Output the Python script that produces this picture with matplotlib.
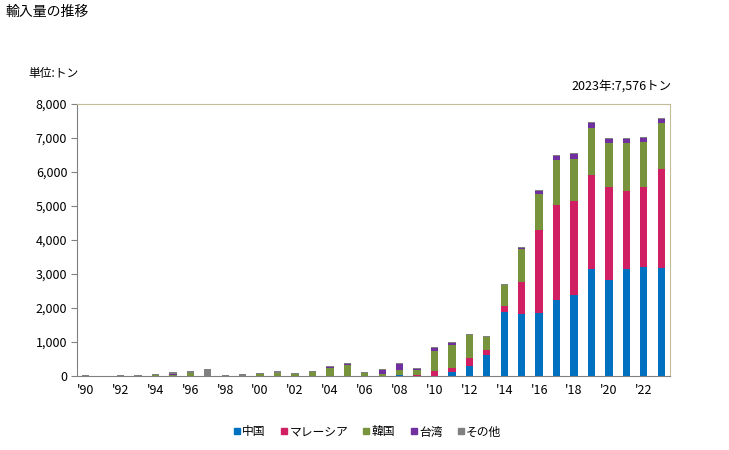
import numpy as np
import matplotlib
matplotlib.use('Agg')
import matplotlib.pyplot as plt
from matplotlib.lines import Line2D

plt.rcParams['font.family'] = ['Noto Sans CJK JP', 'DejaVu Sans']

years = list(range(1990, 2024))
china = [0, 0, 0, 0, 0, 0, 0, 0, 0, 0,
         0, 0, 0, 0, 0, 0, 0, 0, 40, 0,
         0, 118, 294, 608, 1891, 1833, 1852, 2244, 2381, 3146,
         2832, 3146, 3205, 3190]
malaysia = [0, 0, 0, 0, 0, 0, 0, 0, 0, 0,
            10, 0, 0, 0, 0, 0, 0, 0, 0, 40,
            147, 118, 235, 157, 167, 931, 2440, 2783, 2764, 2764,
            2724, 2293, 2352, 2890]
korea = [0, 0, 0, 0, 20, 30, 90, 15, 0, 0,
         40, 80, 50, 130, 230, 320, 93, 69, 137, 147,
         588, 676, 676, 392, 617, 960, 1058, 1323, 1235, 1382,
         1294, 1411, 1323, 1350]
taiwan = [0, 0, 0, 0, 0, 30, 0, 0, 0, 0,
          0, 0, 0, 0, 35, 35, 0, 108, 176, 30,
          88, 60, 0, 0, 0, 40, 88, 118, 147, 147,
          118, 118, 127, 117]
others = [40, 0, 30, 40, 40, 60, 67, 191, 30, 60,
          40, 67, 38, 27, 30, 25, 25, 29, 30, 20,
          30, 40, 30, 20, 29, 30, 39, 29, 29, 29,
          29, 29, 20, 29]

series = [('中国', china, '#0070C0'),
          ('マレーシア', malaysia, '#D01F63'),
          ('韓国', korea, '#77933C'),
          ('台湾', taiwan, '#7030A0'),
          ('その他', others, '#808080')]

fig = plt.figure(figsize=(7.29, 4.5), dpi=100)
ax = fig.add_axes([0.1056, 0.1644, 0.8134, 0.6045])

x = np.arange(len(years))
bottom = np.zeros(len(years))
for name, vals, col in series:
    ax.bar(x, vals, width=0.42, bottom=bottom, color=col, linewidth=0)
    bottom += np.array(vals)

ax.set_xlim(-0.5, len(years) - 0.5)
ax.set_ylim(0, 8000)
ax.set_yticks(range(0, 8001, 1000))
ax.set_yticklabels([f'{v:,}' for v in range(0, 8001, 1000)], fontsize=9)
ax.set_xticks(x[::2])
ax.set_xticklabels([f"'{y % 100:02d}" for y in years[::2]], fontsize=9)
ax.tick_params(axis='x', length=0, pad=6)
ax.tick_params(axis='y', length=4, color='#808080', pad=3)

for s in ['left', 'bottom']:
    ax.spines[s].set_color('#808080')
for s in ['top', 'right']:
    ax.spines[s].set_color('#C4BC96')

fig.text(5 / 729, 1 - 12 / 450, '輸入量の推移', fontsize=10, va='center', ha='left')
fig.text(28 / 729, 1 - 73 / 450, '単位:トン', fontsize=8.5, va='center', ha='left')
fig.text(672 / 729, 1 - 86 / 450, '2023年:7,576トン', fontsize=9, va='center', ha='right')

handles = [Line2D([], [], marker='s', linestyle='', color=c, markersize=5) for _, _, c in series]
fig.legend(handles, [n for n, _, _ in series], loc='center', bbox_to_anchor=(367 / 729, 1 - 432 / 450),
           ncol=5, frameon=False, fontsize=8.5, handletextpad=0.1, columnspacing=1.2, handlelength=0.7)

fig.savefig('out.png', dpi=100)
